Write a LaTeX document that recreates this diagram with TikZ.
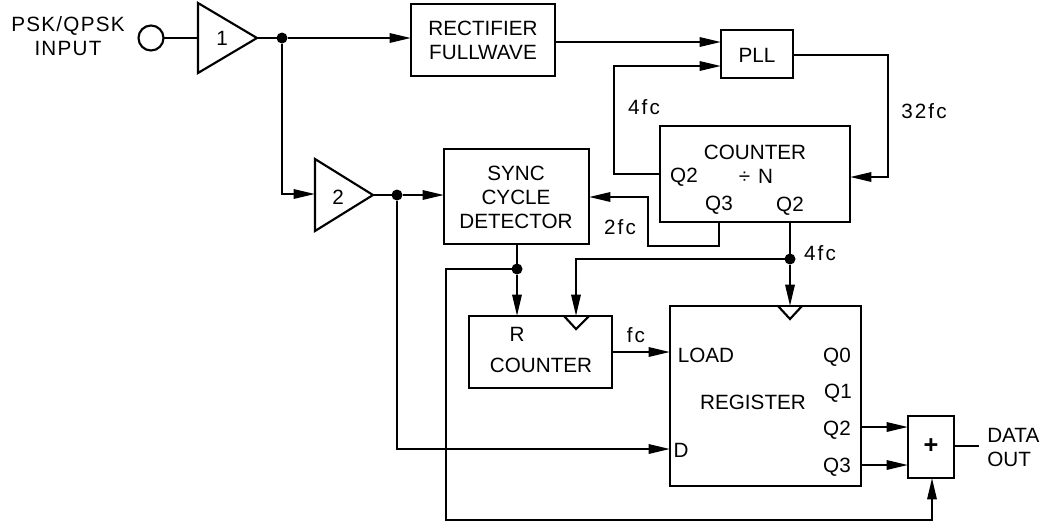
\documentclass[tikz,border=0pt]{standalone}
\usepackage{fontspec}
\setmainfont{Liberation Sans}
\usetikzlibrary{arrows.meta,shapes.geometric}
\def\px{0.75pt}
\tikzset{
  wire/.style={line width=1.6pt,line join=miter},
  arr/.style={wire,-{Triangle[length=16pt,width=7pt]}},
  blk/.style={draw,line width=1.6pt,rectangle,inner sep=0pt,outer sep=0pt},
  amp/.style={draw,line width=1.6pt,isosceles triangle,isosceles triangle stretches,shape border rotate=0,inner sep=0pt,outer sep=0pt,anchor=lower side},
  dot/.style={circle,fill=black,inner sep=0pt,outer sep=0pt,minimum size=11*\px},
  lab/.style={inner sep=0pt,font=\fontsize{15.5}{18}\selectfont,text height=11pt,text depth=0pt},
  flab/.style={lab,font=\fontsize{15.5}{18}\selectfont\addfontfeature{LetterSpace=10}},
  mlab/.style={inner sep=0pt,font=\fontsize{15.5}{18}\selectfont,align=center},
  clk/.style={wire,line join=miter}
}
\begin{document}
\begin{tikzpicture}[x=0.75pt,y=-0.75pt]
\useasboundingbox (0,0) rectangle (1053,526);
% blocks
\node[circle,draw,line width=1.6pt,inner sep=0pt,outer sep=0pt,minimum size=25*\px] (in) at (151,38) {};
\node[amp,minimum width=70*\px,minimum height=59*\px] (a1) at (198,38) {};
\node[amp,minimum width=72*\px,minimum height=58*\px] (a2) at (315,195) {};
\node[blk,minimum width=144*\px,minimum height=72*\px] (rect) at (483,40) {};
\node[blk,minimum width=72*\px,minimum height=48*\px] (pll) at (757,54) {};
\node[blk,minimum width=190*\px,minimum height=96*\px] (cnt) at (755,174) {};
\node[blk,minimum width=145*\px,minimum height=95*\px] (sync) at (516.5,196.5) {};
\node[blk,minimum width=143*\px,minimum height=72*\px] (rc) at (540.5,352) {};
\node[blk,minimum width=191*\px,minimum height=180*\px] (reg) at (765.5,396) {};
\node[blk,minimum width=46*\px,minimum height=62*\px] (sum) at (931,447) {};
% junctions
\node[dot] (j1) at (282,38) {};
\node[dot] (j2) at (397,195) {};
\node[dot] (j3) at (517,269) {};
\node[dot] (j4) at (790,259) {};
\coordinate (outend) at (979,446);
\coordinate (c1) at (446,269);
\coordinate (c2) at (446,520);
% connectors
\draw[wire] (in.east) -- (a1.lower side);
\draw[wire] (a1.apex) -- (j1);
\draw[arr] (j1) -- (rect.west |- j1);
\draw[arr] (j1) |- (a2.lower side |- 0,194);
\draw[wire] (a2.apex) -- (j2);
\draw[arr] (j2) -- (sync.west |- j2);
\draw[arr] (j2) |- (reg.west |- 0,449);
\draw[arr] (rect.east |- 0,42) -- (pll.west |- 0,42);
\draw[arr] (cnt.west |- 0,174) -| (614,66) -- (pll.west |- 0,66);
\draw[arr] (pll.east |- 0,55) -| (888,177) -- (cnt.east |- 0,177);
\draw[arr] (719,222) |- (648,246) |- (sync.east |- 0,197);
\draw[wire] (790,222) -- (j4);
\draw[arr] (j4) -- (790,306);
\draw[arr] (j4) -| (576,316);
\draw[wire] (sync.south -| j3) -- (j3);
\draw[arr] (j3) -- (j3 |- rc.north);
\draw[arr] (j3) -- (c1) -- (c2) -| (sum.south -| 932,0);
\draw[arr] (rc.east) -- (reg.west |- rc.east);
\draw[arr] (reg.east |- 0,427) -- (sum.west |- 0,427);
\draw[arr] (reg.east |- 0,465) -- (sum.west |- 0,465);
\draw[wire] (sum.east |- outend) -- (outend);
% clock marks
\draw[clk] (564,316) -- (576,329) -- (589,316);
\draw[clk] (778,306) -- (790,319) -- (802,306);
% labels
\node[mlab,font=\fontsize{15.5}{18}\selectfont\addfontfeature{LetterSpace=6}] (tin) at (68,36) {PSK/QPSK\\INPUT};
\node[lab] (t1) at (222,38) {1};
\node[lab] (t2) at (338,197) {2};
\node[mlab] (trect) at (483,40) {RECTIFIER\\FULLWAVE};
\node[lab] (tpll) at (757,55) {PLL};
\node[flab] (t4a) at (644,107) {4fc};
\node[flab] (t32) at (924,111) {32fc};
\node[lab] (tcnt) at (755,152) {COUNTER};
\node[flab] (tdiv) at (756,176) {÷ N};
\node[lab] (tq2a) at (684,175) {Q2};
\node[lab] (tq3a) at (719,203) {Q3};
\node[lab] (tq2b) at (790,204) {Q2};
\node[flab] (t2f) at (620,227) {2fc};
\node[flab] (t4b) at (820,253) {4fc};
\node[mlab] (tsync) at (516,197) {SYNC\\CYCLE\\DETECTOR};
\node[lab] (tr) at (517,334) {R};
\node[lab] (trc) at (541,365) {COUNTER};
\node[flab] (tfc) at (636,335) {fc};
\node[lab] (tload) at (706,355) {LOAD};
\node[lab] (tq0) at (837,355) {Q0};
\node[lab] (tq1) at (838,391) {Q1};
\node[lab] (tq2c) at (837,428) {Q2};
\node[lab] (tq3c) at (837,465) {Q3};
\node[lab] (treg) at (753,402) {REGISTER};
\node[lab] (td) at (681,450) {D};
\node[lab,font=\fontsize{19}{18}\selectfont\bfseries] (tplus) at (931,446) {+};
\node[mlab,align=left,anchor=west] (tout) at (987,447) {DATA\\OUT};
\end{tikzpicture}
\end{document}
